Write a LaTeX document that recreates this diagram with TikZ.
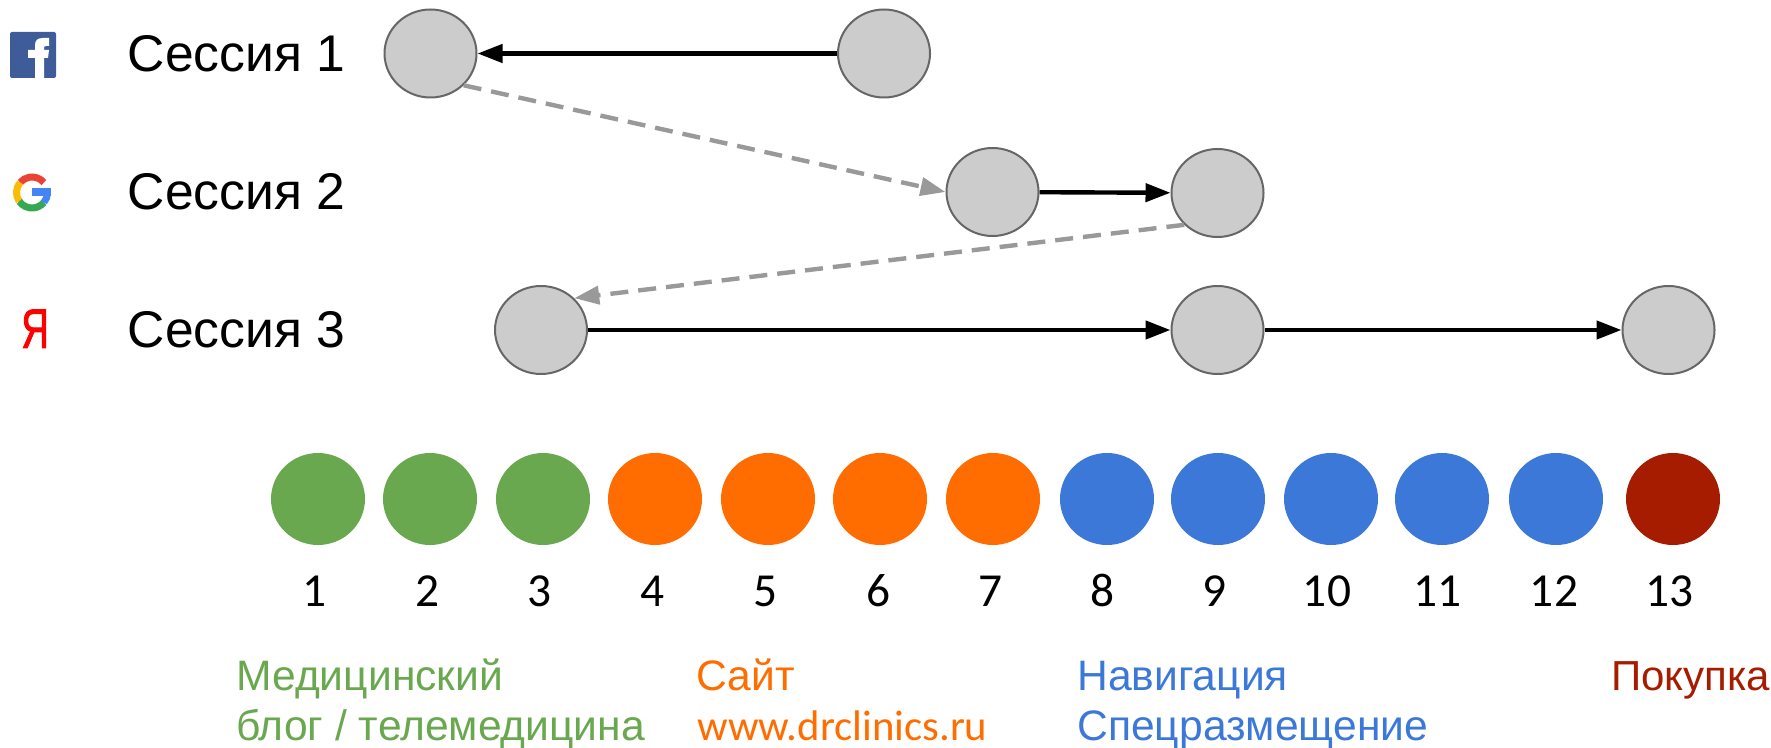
\documentclass[tikz,border=0pt]{standalone}
\usepackage{fontspec}
\setmainfont{Liberation Sans}
\newfontfamily\numfont{Carlito}
\newfontfamily\yafont[FakeStretch=0.68,FakeBold=1.5]{Liberation Sans}
\usetikzlibrary{shapes.geometric,arrows.meta}
\definecolor{blogcol}{HTML}{6AA84F}
\definecolor{sitecol}{HTML}{FF6D01}
\definecolor{navcol}{HTML}{3C78D8}
\definecolor{buycol}{HTML}{A61C00}
\definecolor{fbcol}{HTML}{3F5C9A}
\definecolor{gred}{HTML}{EA4335}
\definecolor{gyellow}{HTML}{FBBC05}
\definecolor{ggreen}{HTML}{34A853}
\definecolor{gblue}{HTML}{4285F4}
\tikzset{
  touch/.style={ellipse,draw=black!60,fill=black!20,line width=1pt,minimum width=46pt,minimum height=44pt,inner sep=0pt},
  dot/.style={ellipse,fill=#1,minimum width=47pt,minimum height=46pt,inner sep=0pt},
  session/.style={anchor=base west,inner sep=0pt,font=\fontsize{25.8}{30}\selectfont},
  legend/.style={anchor=base west,inner sep=0pt,text=#1,font=\fontsize{21.3}{25}\selectfont},
  solidarrow/.style={-{Triangle[length=12.5pt,width=9pt]},line width=2.2pt,black},
  dasharrow/.style={-{Triangle[length=12.5pt,width=9pt]},line width=2.2pt,black!40,dash pattern=on 9pt off 5pt},
}
\begin{document}
\begin{tikzpicture}[x=0.5pt,y=-0.5pt]
  \useasboundingbox (0,0) rectangle (1771,748);

  % Facebook icon
  \node (fbicon) at (33,55) [fill=fbcol,rounded corners=1pt,minimum size=23pt,inner sep=0pt] {};
  \fill[white] (35,78) -- (35,58) -- (28,58) -- (28,50) -- (35,50) -- (35,45)
    .. controls (35,40) and (38,38) .. (43,38) -- (49,38) -- (49,46) -- (46,46)
    .. controls (44.5,46) and (44,47) .. (44,48) -- (44,50) -- (49,50) -- (48,58) -- (44,58) -- (44,78) -- cycle;

  % Google icon
  \coordinate (gicon) at (32,192.5);
  \draw[line width=3.5pt,color=gred] ([shift={(-40:15.5)}]gicon) arc (-40:-140:15.5);
  \draw[line width=3.5pt,color=gyellow] ([shift={(-140:15.5)}]gicon) arc (-140:-215:15.5);
  \draw[line width=3.5pt,color=ggreen] ([shift={(-215:15.5)}]gicon) arc (-215:-320:15.5);
  \draw[line width=3.5pt,color=gblue] ([shift={(-320:15.5)}]gicon) arc (-320:-360:15.5);
  \fill[gblue] (32,188.5) rectangle (51,196);

  % Yandex icon
  \node (yaicon) at (21,348) [anchor=base west,inner sep=0pt,text=red,font=\yafont\fontsize{28}{30}\selectfont] {Я};

  % Session labels
  \node (s1label) at (127.5,72) [session] {Сессия 1};
  \node (s2label) at (127.5,210) [session] {Сессия 2};
  \node (s3label) at (127.5,348) [session] {Сессия 3};

  % Session 1
  \node (a1) at (430.5,53.5) [touch] {};
  \node (a2) at (884,53.5) [touch] {};
  % Session 2
  \node (b1) at (992.5,192) [touch] {};
  \node (b2) at (1217.5,193) [touch] {};
  % Session 3
  \node (c1) at (541,330) [touch] {};
  \node (c2) at (1217.5,330) [touch] {};
  \node (c3) at (1668.5,330) [touch] {};

  % Arrows inside the sessions
  \draw[solidarrow] (a2) -- (a1);
  \draw[solidarrow] (b1) -- (b2);
  \draw[solidarrow] (c1) -- (c2);
  \draw[solidarrow] (c2) -- (c3);

  % Arrows between the sessions
  \draw[dasharrow] (a1.south east) -- (b1.west);
  \draw[dasharrow] (b2.south west) -- (c1.north east);

  % Numbered dots
  \foreach \n/\px/\tx/\col in {1/318/315/blogcol,2/430/428/blogcol,3/543/540/blogcol,4/655/653/sitecol,
      5/768/766/sitecol,6/880/878/sitecol,7/993/990.5/sitecol,8/1107/1102/navcol,9/1218/1214/navcol,
      10/1331/1327/navcol,11/1442/1437.5/navcol,12/1556/1554/navcol,13/1673/1669/buycol} {
    \node (dot\n) at (\px,499) [dot=\col] {};
    \node (num\n) at (\tx,606) [anchor=base,inner sep=0pt,font=\numfont\fontsize{23.7}{25}\selectfont] {\n};
  }

  % Legend
  \node (blog1) at (236,690) [legend=blogcol] {Медицинский};
  \node (blog2) at (236,740) [legend=blogcol] {блог / телемедицина};
  \node (site1) at (696,690) [legend=sitecol] {Сайт};
  \node (site2) at (697,740) [legend=sitecol,font=\numfont\fontsize{21.4}{25}\selectfont] {www.drclinics.ru};
  \node (nav1) at (1077,690) [legend=navcol] {Навигация};
  \node (nav2) at (1077,740) [legend=navcol] {Спецразмещение};
  \node (buy1) at (1611,690) [legend=buycol,font=\fontsize{21}{25}\selectfont] {Покупка};
\end{tikzpicture}
\end{document}
